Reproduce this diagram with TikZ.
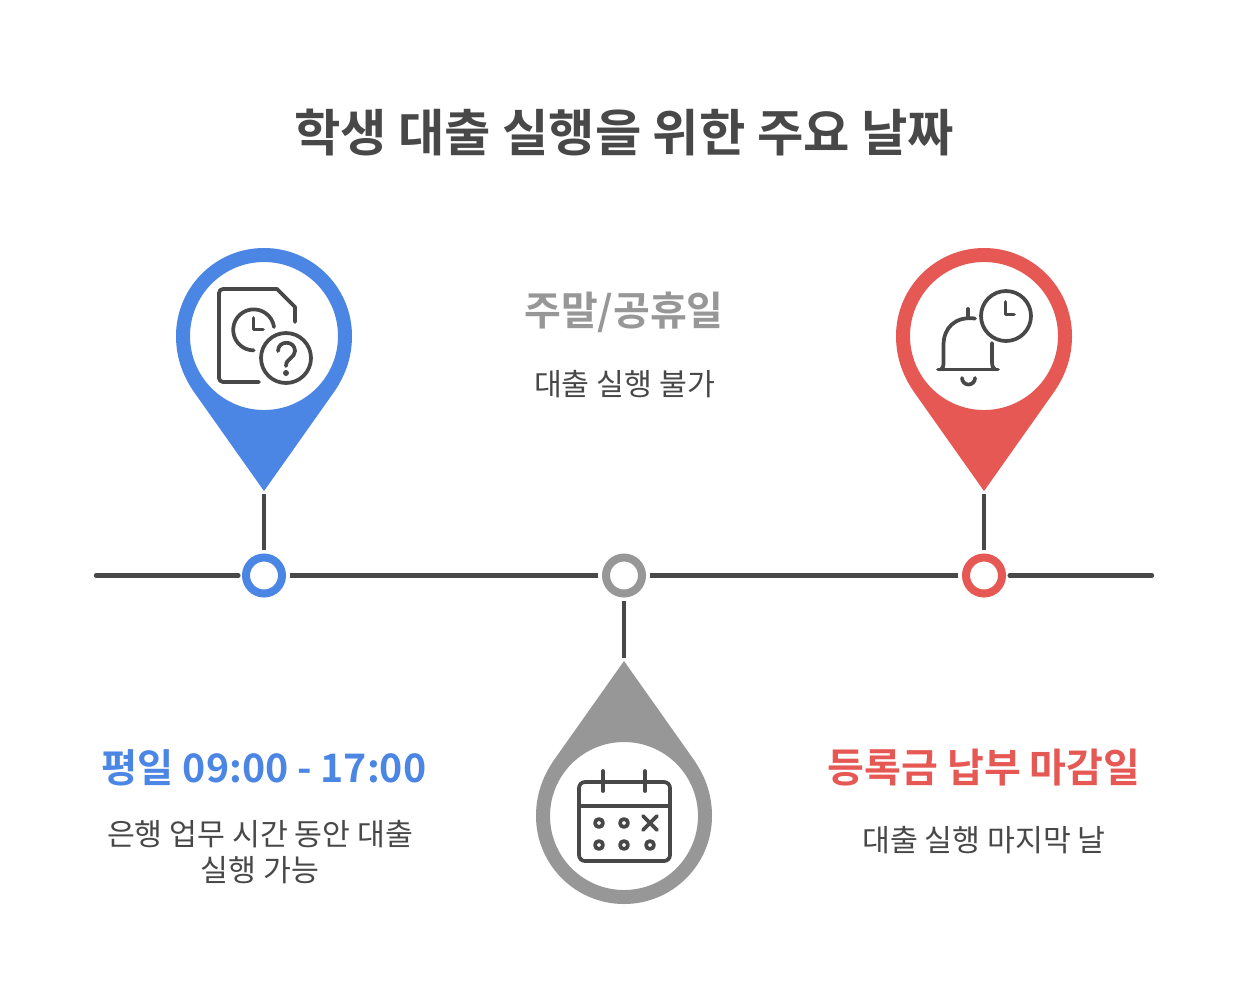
\documentclass[tikz,border=0pt]{standalone}
\usepackage{fontspec}
\setmainfont{Noto Sans CJK KR}[BoldFont={Noto Sans CJK KR Bold}]
\newcommand{\fsz}[1]{\fontsize{\dimexpr #1pt*3/4\relax}{\dimexpr #1pt*9/10\relax}\selectfont}
\definecolor{ink}{HTML}{484848}
\definecolor{pinblue}{HTML}{4B86E5}
\definecolor{pinred}{HTML}{E65853}
\definecolor{pingrey}{HTML}{979797}
\tikzset{
  x=0.75pt,y=-0.75pt,
  axisline/.style={draw=ink,line width=3.2pt},
  stemline/.style={draw=ink,line width=3.2pt},
  dotnode/.style={circle,draw=#1,fill=white,line width=6pt,minimum size=27pt,inner sep=0pt,outer sep=5.7pt},
  ico/.style={draw=ink,line width=2.8pt,line cap=round,line join=round,fill=none},
  heading/.style={font=\fsz{40}\bfseries,text=#1,inner sep=0pt,anchor=center},
  body/.style={font=\fsz{30.3},text=ink,inner sep=0pt,anchor=center,align=center},
}
\newcommand{\pindown}[2]{% centre x, colour
  \fill[#2,even odd rule] (#1-88,336) arc[start angle=180,end angle=360,radius=88]
    .. controls (#1+88,358) and (#1+81,376) .. (#1+70,392) -- (#1,491) -- (#1-70,392)
    .. controls (#1-81,376) and (#1-88,358) .. (#1-88,336) -- cycle
    (#1,336) circle[radius=74];}
\begin{document}
\begin{tikzpicture}
\useasboundingbox (0,0) rectangle (1248,990);
\fill[white] (0,0) rectangle (1248,990);
% title
\node[heading=ink,font=\fsz{50.4}\bfseries] (title) at (624,132) {학생 대출 실행을 위한 주요 날짜};
% pins
\pindown{264}{pinblue}
\pindown{984}{pinred}
\fill[pingrey,even odd rule] (536,816) arc[start angle=180,end angle=0,radius=88]
  .. controls (712,794) and (705,776) .. (694,760) -- (624,661) -- (554,760)
  .. controls (543,776) and (536,794) .. (536,816) -- cycle
  (624,816) circle[radius=74];
% axis
\coordinate (axisL) at (96,575.5);
\coordinate (axisR) at (1152,575.5);
\node[dotnode=pinblue] (dotA) at (264,575.5) {};
\node[dotnode=pingrey] (dotB) at (624,575.5) {};
\node[dotnode=pinred] (dotC) at (984,575.5) {};
\draw[axisline,line cap=round] (axisL) -- (dotA);
\draw[axisline] (dotA) -- (dotB);
\draw[axisline] (dotB) -- (dotC);
\draw[axisline,line cap=round] (dotC) -- (axisR);
\coordinate (tipA) at (264,494);
\coordinate (tipB) at (624,658);
\coordinate (tipC) at (984,494);
\draw[stemline] (tipA) -- (dotA);
\draw[stemline] (dotB) -- (tipB);
\draw[stemline] (tipC) -- (dotC);
% icon: document, clock, question
\draw[ico] (259,382) -- (223,382) arc[start angle=90,end angle=180,radius=4] -- (219,293) arc[start angle=180,end angle=270,radius=4] -- (277,289) -- (295,307) -- (295,322);
\draw[ico] (274,327) arc[start angle=-8,end angle=-270,radius=20.5];
\draw[ico] (253.5,318) -- (253.5,329.5) -- (263,329.5);
\draw[ico] (286,358) circle[radius=25];
\draw[ico] (278,351) .. controls (278,340) and (295,340) .. (295,351) .. controls (295,358) and (286,358) .. (286,366);
\fill[ink] (286,373) circle[radius=3];
% icon: bell, clock
\draw[ico] (1006,316) circle[radius=25];
\draw[ico] (1005.5,302) -- (1005.5,314.5) -- (1014,314.5);
\draw[ico] (975,318.5) .. controls (955,316) and (943.5,328) .. (943.5,345) -- (943.5,362) .. controls (943.5,366) and (943,368) .. (941,369.5);
\draw[ico] (968,309) -- (968,317);
\draw[ico] (992,343) -- (992,362) .. controls (992,366) and (993,368) .. (995,369.5);
\draw[ico] (938,369.5) -- (998,369.5);
\draw[ico] (962,378) arc[start angle=180,end angle=0,radius=6.5];
% icon: calendar
\draw[ico] (585,782) -- (664,782) arc[start angle=-90,end angle=0,radius=6] -- (670,855) arc[start angle=0,end angle=90,radius=6] -- (585,861) arc[start angle=90,end angle=180,radius=6] -- (579,788) arc[start angle=180,end angle=270,radius=6] -- cycle;
\draw[ico] (579,806) -- (670,806);
\draw[ico] (603,771) -- (603,791);
\draw[ico] (645,771) -- (645,791);
\foreach \cx/\cy in {599/823,624/823,599/845,624/845,650/845}
  \draw[ico] (\cx,\cy) circle[radius=4];
\draw[ico] (643,816) -- (657,830);
\draw[ico] (657,816) -- (643,830);
% texts
\node[heading=pinblue,font=\fsz{39.3}\bfseries] (hA) at (264,768) {평일 09:00 - 17:00};
\node[body] (bA) at (260,852) {은행 업무 시간 동안 대출\\실행 가능};
\node[heading=pingrey] (hB) at (624,312.5) {주말/공휴일};
\node[body] (bB) at (624.5,384) {대출 실행 불가};
\node[heading=pinred] (hC) at (984,768) {등록금 납부 마감일};
\node[body] (bC) at (984,840) {대출 실행 마지막 날};
\end{tikzpicture}
\end{document}
